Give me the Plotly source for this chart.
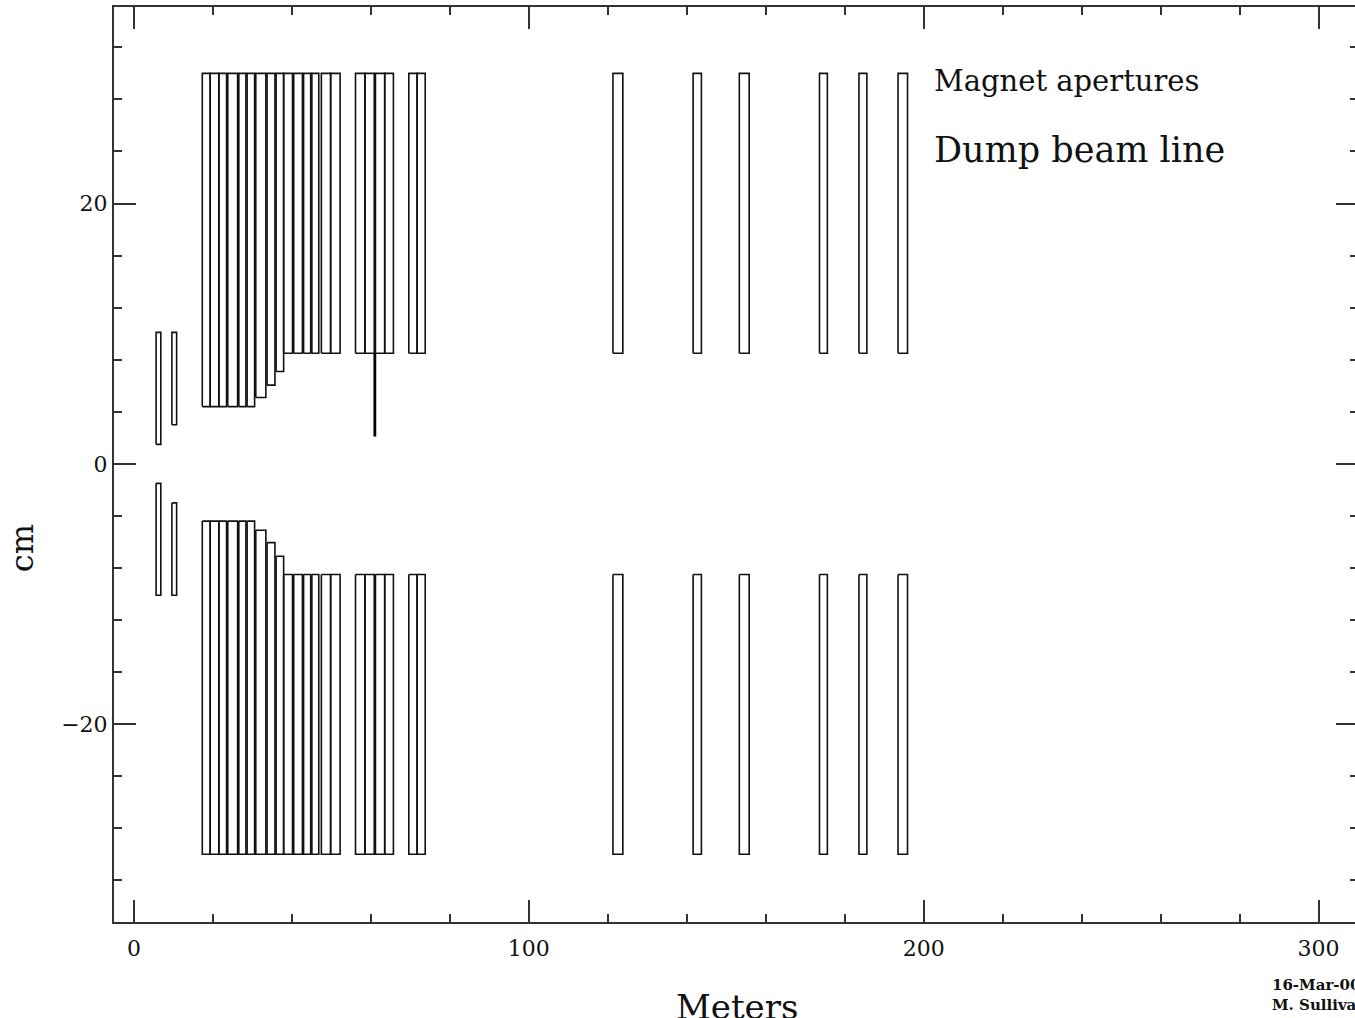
import plotly.graph_objects as go

# ---- data (meters along beam line, half-apertures in cm) ----
mag_start = [5.6, 9.6, 17.3, 19.3, 21.5, 23.75, 26.55, 28.65, 30.85, 33.7, 36.0, 37.9, 40.45, 42.95, 45.05,
             47.45, 49.8, 56.1, 58.5, 61.15, 63.5, 69.6, 71.7,
             121.3, 141.6, 153.3, 173.6, 183.6, 193.5]
mag_end = [6.8, 10.8, 19.3, 21.5, 23.45, 26.25, 28.35, 30.55, 33.4, 35.7, 37.9, 40.15, 42.65, 44.75, 46.8,
           49.8, 52.2, 58.5, 60.85, 63.5, 65.7, 71.7, 73.75,
           123.8, 143.7, 155.8, 175.6, 185.6, 195.9]
inner_aperture = [1.5, 3.0, 4.4, 4.4, 4.4, 4.4, 4.4, 4.4, 5.1, 6.05, 7.1, 8.5, 8.5, 8.5, 8.5,
                  8.5, 8.5, 8.5, 8.5, 8.5, 8.5, 8.5, 8.5,
                  8.5, 8.5, 8.5, 8.5, 8.5, 8.5]
outer_aperture = [10.1, 10.1] + [30.0] * 27

septum_s = [61.0]
septum_y0 = [2.1]
septum_y1 = [8.5]

x_ticks = [0, 100, 200, 300]
y_ticks = [-20, 0, 20]

# ---- build closed outlines ----
xs, ys = [], []
for s0, s1, a, b in zip(mag_start, mag_end, inner_aperture, outer_aperture):
    for sign in (1, -1):
        xs += [s0, s1, s1, s0, s0, None]
        ys += [sign * a, sign * a, sign * b, sign * b, sign * a, None]

sx, sy = [], []
for s, y0, y1 in zip(septum_s, septum_y0, septum_y1):
    sx += [s, s, None]
    sy += [y0, y1, None]

fig = go.Figure()
fig.add_trace(go.Scatter(x=xs, y=ys, mode="lines", line=dict(color="#111", width=1.6),
                         hoverinfo="skip", showlegend=False))
fig.add_trace(go.Scatter(x=sx, y=sy, mode="lines", line=dict(color="#000", width=2.8),
                         hoverinfo="skip", showlegend=False))

FONT = "DejaVu Serif"
axis_common = dict(showline=True, linecolor="#333", linewidth=2, mirror="ticks",
                   ticks="inside", ticklen=22, tickwidth=1.5, tickcolor="#333",
                   showgrid=False, zeroline=False,
                   tickfont=dict(family=FONT, size=22, color="#111"))

fig.update_xaxes(range=[-5.06, 309.98], tickvals=x_ticks, ticklabelstandoff=6,
                 minor=dict(dtick=20, ticklen=8, tickwidth=1.5, tickcolor="#333", ticks="inside", showgrid=False),
                 **axis_common)
fig.update_yaxes(range=[-35.2, 35.1], tickvals=y_ticks,
                 minor=dict(dtick=4, ticklen=8, tickwidth=1.5, tickcolor="#333", ticks="inside", showgrid=False),
                 **axis_common)

fig.add_annotation(x=202.0, y=29.4, xref="x", yref="y", text="Magnet apertures", showarrow=False,
                   xanchor="left", yanchor="middle", font=dict(family=FONT, size=29, color="#111"))
fig.add_annotation(x=202.0, y=24.1, xref="x", yref="y", text="Dump beam line", showarrow=False,
                   xanchor="left", yanchor="middle", font=dict(family=FONT, size=35, color="#111"))

PW = 1246  # plot-area width in px
# axis titles and footer
fig.add_annotation(x=(22 - 114) / PW, y=(922 - 548) / 915, xref="paper", yref="paper", text="cm",
                   showarrow=False, textangle=-90, xanchor="center", yanchor="middle",
                   font=dict(family=FONT, size=32, color="#111"))
fig.add_annotation(x=(738 - 114) / PW, y=(922 - 985) / 915, xref="paper", yref="paper", text="Meters",
                   showarrow=False, xanchor="center", yanchor="top",
                   font=dict(family=FONT, size=34, color="#111"))
fig.add_annotation(x=(1272 - 114) / PW, y=(922 - 985) / 915, xref="paper", yref="paper",
                   text="<b>16-Mar-00</b>", showarrow=False, xanchor="left", yanchor="middle",
                   font=dict(family=FONT, size=15, color="#111"))
fig.add_annotation(x=(1272 - 114) / PW, y=(922 - 1005) / 915, xref="paper", yref="paper",
                   text="<b>M. Sullivan</b>", showarrow=False, xanchor="left", yanchor="middle",
                   font=dict(family=FONT, size=15, color="#111"))

fig.update_layout(width=1360, height=1018, margin=dict(l=114, r=0, t=7, b=96),
                  plot_bgcolor="white", paper_bgcolor="white")

fig.write_html("out.html", config={"displayModeBar": False},
               post_script="document.body.style.margin='0';document.body.style.overflow='hidden';")
